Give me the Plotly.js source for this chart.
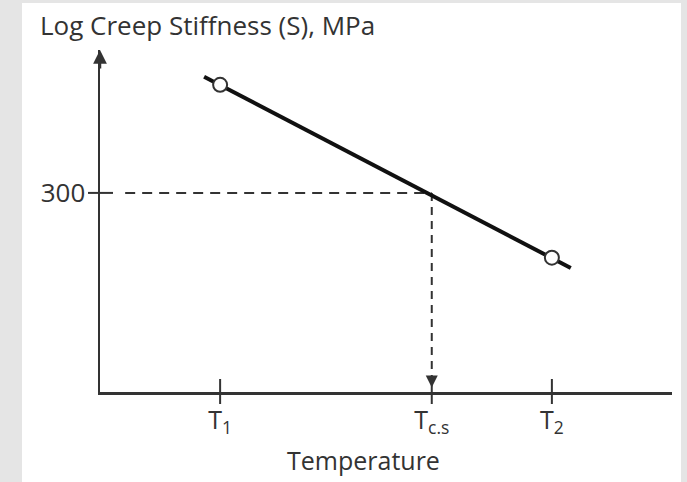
<!DOCTYPE html>
<html>
<head>
<meta charset="utf-8">
<script src="https://cdn.plot.ly/plotly-3.0.1.min.js"></script>
<style>html,body{margin:0;padding:0;background:#e5e5e5;}#chart{width:687px;height:482px;}</style>
</head>
<body>
<div id="chart"></div>
<script>
// Temperatures (arbitrary units along the x axis)
const tickTemps = [2.10, 5.80, 7.90];
const tickLabels = ['T<sub>1</sub>', 'T<sub>c.s</sub>', 'T<sub>2</sub>'];
// Fitted line (log creep stiffness vs temperature)
const lineTemps = [1.82, 8.23];
const lineStiff = [656, 181];
// Measured points at T1 and T2
const pointTemps = [2.10, 7.90];
const pointStiff = [621, 194];
// Critical stiffness
const critStiff = 300;
const critTemp = 5.80;
const yTickVals = [300];
const yTickText = ['300'];
const guideStartTemp = 0.44;
const guideEndStiff = 86;

const axisColor = '#333333';
const font = '"Open Sans", Lato, sans-serif';

const traces = [
  { x: [guideStartTemp, critTemp], y: [critStiff, critStiff], mode: 'lines',
    line: { color: axisColor, width: 2, dash: '10px,7px' }, hoverinfo: 'skip', showlegend: false },
  { x: [critTemp, critTemp], y: [critStiff, guideEndStiff], mode: 'lines',
    line: { color: axisColor, width: 2, dash: '8px,6px' }, hoverinfo: 'skip', showlegend: false },
  { x: lineTemps, y: lineStiff, mode: 'lines',
    line: { color: '#111111', width: 4 }, showlegend: false },
  { x: pointTemps, y: pointStiff, mode: 'markers',
    marker: { symbol: 'circle', size: 14, color: '#ffffff', line: { color: '#333333', width: 2 } },
    showlegend: false }
];

const yRange = [1.895, 2.895];

const shapes = [
  { type: 'rect', xref: 'paper', yref: 'paper', x0: -0.1364, x1: 1.0157, y0: -0.27, y1: 1.1374,
    fillcolor: '#ffffff', line: { width: 0 }, layer: 'below' }
];
tickTemps.forEach(t => shapes.push({
  type: 'line', xref: 'x', yref: 'paper', ysizemode: 'pixel', yanchor: 0,
  x0: t, x1: t, y0: -12, y1: 13, line: { color: axisColor, width: 2 }
}));
yTickVals.forEach(v => shapes.push({
  type: 'line', yref: 'y', xref: 'paper', xsizemode: 'pixel', xanchor: 0,
  y0: v, y1: v, x0: -12, x1: 13, line: { color: axisColor, width: 2 }
}));

const layout = {
  width: 687, height: 482,
  margin: { l: 100, r: 15, t: 50, b: 90 },
  paper_bgcolor: '#e5e5e5',
  plot_bgcolor: 'rgba(0,0,0,0)',
  font: { family: font, color: axisColor, size: 25 },
  title: { text: 'Log Creep Stiffness (S), MPa', xref: 'container', yref: 'container',
    x: 40 / 687, xanchor: 'left', y: 1 - 26 / 482, yanchor: 'middle',
    font: { family: font, size: 26, color: axisColor } },
  xaxis: { range: [0, 10], showgrid: false, zeroline: false, showline: true,
    linecolor: axisColor, linewidth: 2.5, ticks: 'outside', ticklen: 4, tickwidth: 2,
    tickcolor: 'rgba(0,0,0,0)', tickvals: tickTemps, ticktext: tickLabels,
    tickfont: { family: font, size: 25, color: axisColor }, fixedrange: true },
  yaxis: { type: 'log', range: yRange, showgrid: false, zeroline: false, showline: true,
    linecolor: axisColor, linewidth: 2.5, ticks: 'outside', ticklen: 7, tickwidth: 2,
    tickcolor: 'rgba(0,0,0,0)', tickvals: yTickVals, ticktext: yTickText,
    tickfont: { family: font, size: 26, color: axisColor }, fixedrange: true },
  shapes: shapes,
  annotations: [
    { xref: 'paper', yref: 'paper', x: 0, y: 1, ax: 0, ay: 20, showarrow: true,
      arrowhead: 2, arrowsize: 1.1, arrowwidth: 2.5, arrowcolor: axisColor, text: '' },
    { xref: 'x', yref: 'y', x: critTemp, y: Math.log10(81), ax: 0, ay: -12, showarrow: true,
      arrowhead: 2, arrowsize: 1.2, arrowwidth: 2, arrowcolor: axisColor, text: '' },
    { xref: 'paper', yref: 'paper', x: (363 - 100) / 572, y: 0, yshift: -68, yanchor: 'middle',
      showarrow: false, text: 'Temperature', font: { family: font, size: 25, color: axisColor } }
  ]
};

Plotly.newPlot('chart', traces, layout, { displayModeBar: false, staticPlot: true });
</script>
</body>
</html>
